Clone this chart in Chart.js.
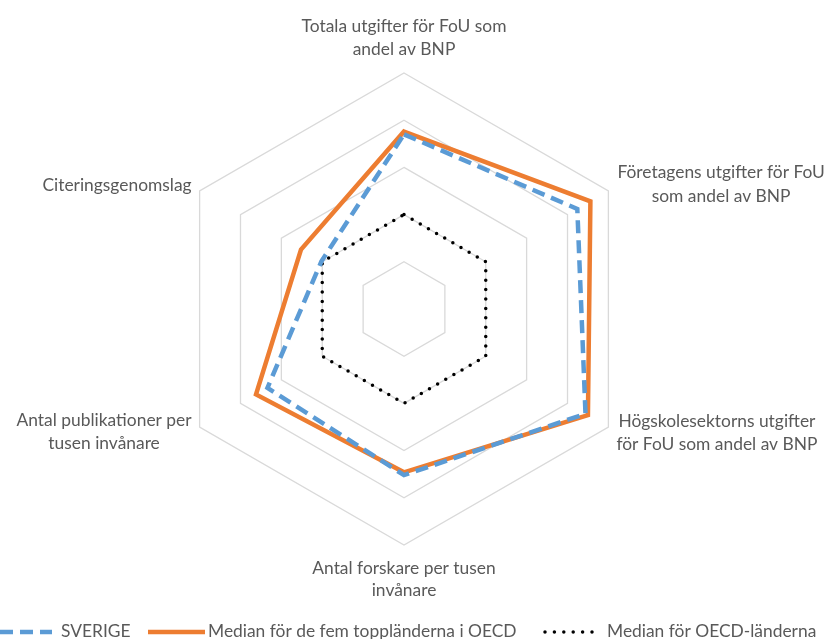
<!DOCTYPE html>
<html>
<head>
<meta charset="utf-8">
<script src="https://cdn.jsdelivr.net/npm/chart.js@4/dist/chart.umd.min.js"></script>
<style>
  html, body { margin: 0; padding: 0; background: #ffffff; }
  #wrap { width: 829px; height: 639px; }
</style>
</head>
<body>
<div id="wrap"><canvas id="c" width="829" height="639"></canvas></div>
<script>
// ---- Data ----
const categories = [
  ["Totala utgifter för FoU som", "andel av BNP"],
  ["Företagens utgifter för FoU", "som andel av BNP"],
  ["Högskolesektorns utgifter", "för FoU som andel av BNP"],
  ["Antal forskare per tusen", "invånare"],
  ["Antal publikationer per", "tusen invånare"],
  ["Citeringsgenomslag"]
];
const seriesNames = ["SVERIGE", "Median för de fem toppländerna i OECD", "Median för OECD-länderna"];
const sverige = [1.85, 2.12, 2.22, 1.76, 1.67, 1.01];
const topp5   = [1.88, 2.28, 2.25, 1.73, 1.81, 1.26];
const oecd    = [1.00, 1.00, 1.00, 1.00, 1.00, 1.00];
const scaleMin = 0, scaleMax = 2.5, scaleStep = 0.5;

const FONT = '17.4px Lato';
const TEXT = '#595959';

// Point labels drawn at the scale's own point positions
const labelSpec = [
  { align: 'center', dx: 0,  dy: [-47, -24] },
  { align: 'left',   dx: 9,  dy: [-19, 5] },
  { align: 'left',   dx: 8,  dy: [-6, 17] },
  { align: 'center', dx: 0,  dy: [23, 45] },
  { align: 'right',  dx: -8, dy: [-7, 16] },
  { align: 'right',  dx: -8, dy: [-6] }
];

const pointLabelPlugin = {
  id: 'pointLabelPlugin',
  afterDraw(chart) {
    const scale = chart.scales.r;
    const ctx = chart.ctx;
    ctx.save();
    ctx.font = FONT;
    ctx.fillStyle = TEXT;
    ctx.textBaseline = 'middle';
    ctx.textAlign = 'center';
    categories.forEach((lines, i) => {
      const p = scale.getPointPosition(i, scale.drawingArea);
      const spec = labelSpec[i];
      const maxW = Math.max(...lines.map(l => ctx.measureText(l).width));
      let cx;
      if (spec.align === 'center') cx = p.x + spec.dx;
      else if (spec.align === 'left') cx = p.x + spec.dx + maxW / 2;
      else cx = p.x + spec.dx - maxW / 2;
      lines.forEach((l, k) => ctx.fillText(l, cx, p.y + spec.dy[k]));
    });
    ctx.restore();
  }
};

const legendPlugin = {
  id: 'legendPlugin',
  afterDraw(chart) {
    const ctx = chart.ctx;
    const y = 632;
    const items = [
      { x0: 0,   x1: 52,  tx: 61,  ds: chart.data.datasets[0] },
      { x0: 148, x1: 205, tx: 208, ds: chart.data.datasets[1] },
      { x0: 543, x1: 598, tx: 607, ds: chart.data.datasets[2] }
    ];
    ctx.save();
    items.forEach(it => {
      const ds = it.ds;
      ctx.beginPath();
      ctx.strokeStyle = ds.borderColor;
      ctx.lineWidth = ds.borderWidth;
      ctx.lineCap = ds.borderCapStyle || 'butt';
      ctx.setLineDash(ds.borderDash || []);
      ctx.moveTo(it.x0 + (ds.legendOffset || 0), y);
      ctx.lineTo(it.x1, y);
      ctx.stroke();
      ctx.setLineDash([]);
      ctx.font = FONT;
      ctx.fillStyle = TEXT;
      ctx.textBaseline = 'middle';
      ctx.textAlign = 'left';
      ctx.fillText(ds.label, it.tx, y - 1);
    });
    ctx.restore();
  }
};

new Chart(document.getElementById('c'), {
  type: 'radar',
  data: {
    labels: categories,
    datasets: [
      {
        label: seriesNames[0], data: sverige,
        borderColor: '#5b9bd5', borderWidth: 4.5, borderDash: [13, 7],
        borderCapStyle: 'butt', fill: false, pointRadius: 0, tension: 0
      },
      {
        label: seriesNames[1], data: topp5,
        borderColor: '#ed7d31', borderWidth: 4.5,
        borderCapStyle: 'butt', fill: false, pointRadius: 0, tension: 0
      },
      {
        label: seriesNames[2], data: oecd,
        borderColor: '#000000', borderWidth: 3.5, borderDash: [0, 9.4],
        borderCapStyle: 'round', fill: false, pointRadius: 0, tension: 0, legendOffset: 2
      }
    ]
  },
  options: {
    responsive: false,
    animation: false,
    devicePixelRatio: 1,
    layout: { padding: { top: 73, bottom: 94, left: 0, right: 21 } },
    plugins: { legend: { display: false }, tooltip: { enabled: false } },
    elements: { line: { borderJoinStyle: 'miter' } },
    scales: {
      r: {
        min: scaleMin, max: scaleMax,
        ticks: { display: false, stepSize: scaleStep },
        grid: { color: '#d9d9d9', lineWidth: 1.3 },
        angleLines: { display: false },
        pointLabels: { display: false }
      }
    }
  },
  plugins: [pointLabelPlugin, legendPlugin]
});
</script>
</body>
</html>
